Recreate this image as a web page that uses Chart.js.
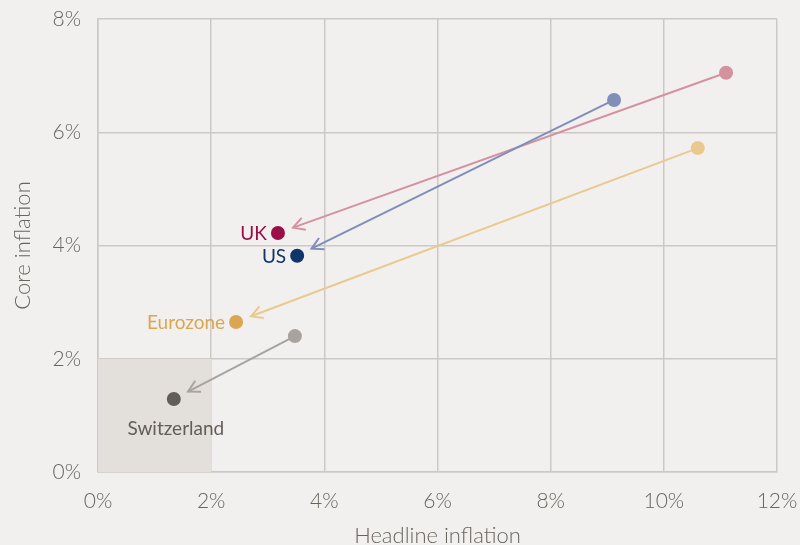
<!DOCTYPE html>
<html>
<head>
<meta charset="utf-8">
<script src="https://cdn.jsdelivr.net/npm/chart.js@4/dist/chart.umd.min.js"></script>
<style>
  html, body { margin: 0; padding: 0; background: #f2f0ee; }
  #wrap { width: 800px; height: 545px; }
</style>
</head>
<body>
<div id="wrap"><canvas id="inflation"></canvas></div>
<script>
// headline / core inflation, start (peak) -> latest
var countries = ['UK', 'US', 'Eurozone', 'Switzerland'];
var startHeadline = [11.1, 9.12, 10.6, 3.48];
var startCore = [7.05, 6.57, 5.72, 2.40];
var endHeadline = [3.18, 3.52, 2.44, 1.34];
var endCore = [4.22, 3.82, 2.65, 1.29];
var lightColors = ['#d4919f', '#7f8fb8', '#e9c990', '#a8a39e'];
var darkColors = ['#9b0d47', '#0f356b', '#dba653', '#625d57'];
var xTicks = [0, 2, 4, 6, 8, 10, 12];
var yTicks = [0, 2, 4, 6, 8];
var targetBox = [2, 2]; // headline, core

var fontFamily = "'Source Sans Pro', Lato, 'Open Sans', sans-serif";
var textColor = '#6a645f';
var gridColor = '#cbc8c5';

function pts(xs, ys){
    var out = [];
    for(var i = 0; i < xs.length; i++){
        out.push({x: xs[i], y: ys[i]});
    }
    return out;
}

var boxPlugin = {
    id: 'targetBox',
    beforeDatasetsDraw: function(chart){
        var ctx = chart.ctx, xs = chart.scales.x, ys = chart.scales.y;
        var x0 = xs.getPixelForValue(0), x1 = xs.getPixelForValue(targetBox[0]);
        var y0 = ys.getPixelForValue(0), y1 = ys.getPixelForValue(targetBox[1]);
        ctx.save();
        ctx.fillStyle = '#e3dfdb';
        ctx.fillRect(x0, y1, x1 - x0, y0 - y1);
        ctx.restore();
    }
};

var arrowPlugin = {
    id: 'arrows',
    beforeDatasetsDraw: function(chart){
        var ctx = chart.ctx, xs = chart.scales.x, ys = chart.scales.y;
        ctx.save();
        ctx.lineWidth = 2;
        for(var i = 0; i < countries.length; i++){
            var sx = xs.getPixelForValue(startHeadline[i]), sy = ys.getPixelForValue(startCore[i]);
            var ex = xs.getPixelForValue(endHeadline[i]), ey = ys.getPixelForValue(endCore[i]);
            var dx = ex - sx, dy = ey - sy;
            var len = Math.sqrt(dx*dx + dy*dy);
            var ux = dx / len, uy = dy / len;
            var tx = ex - ux * 16, ty = ey - uy * 16;
            ctx.strokeStyle = lightColors[i];
            ctx.beginPath();
            ctx.moveTo(sx, sy);
            ctx.lineTo(tx, ty);
            ctx.stroke();
            // open arrow head
            var ang = Math.atan2(uy, ux), head = 13, spread = 0.5;
            ctx.beginPath();
            ctx.moveTo(tx - head * Math.cos(ang - spread), ty - head * Math.sin(ang - spread));
            ctx.lineTo(tx, ty);
            ctx.lineTo(tx - head * Math.cos(ang + spread), ty - head * Math.sin(ang + spread));
            ctx.stroke();
        }
        ctx.restore();
    }
};

var labelPlugin = {
    id: 'countryLabels',
    afterDatasetsDraw: function(chart){
        var ctx = chart.ctx, xs = chart.scales.x, ys = chart.scales.y;
        ctx.save();
        ctx.font = '19px ' + fontFamily;
        for(var i = 0; i < countries.length; i++){
            var ex = xs.getPixelForValue(endHeadline[i]), ey = ys.getPixelForValue(endCore[i]);
            ctx.fillStyle = darkColors[i];
            if(countries[i] === 'Switzerland'){
                ctx.textAlign = 'center';
                ctx.textBaseline = 'middle';
                ctx.fillText(countries[i], ex + 2, ey + 30);
            } else {
                ctx.textAlign = 'right';
                ctx.textBaseline = 'middle';
                ctx.fillText(countries[i], ex - 11, ey + 1);
            }
        }
        ctx.restore();
    }
};

var ctx = document.getElementById('inflation');
var chart = new Chart(ctx, {
    type: 'scatter',
    data: {
        datasets: [{
            label: 'start',
            data: pts(startHeadline, startCore),
            backgroundColor: lightColors,
            borderWidth: 0,
            pointRadius: 7,
            pointHoverRadius: 7
        }, {
            label: 'latest',
            data: pts(endHeadline, endCore),
            backgroundColor: darkColors,
            borderWidth: 0,
            pointRadius: 7,
            pointHoverRadius: 7
        }]
    },
    options: {
        responsive: true,
        maintainAspectRatio: false,
        animation: false,
        layout: { padding: { top: 19, right: 23, left: 0, bottom: 0 } },
        plugins: {
            legend: { display: false },
            tooltip: { enabled: false }
        },
        scales: {
            x: {
                min: 0, max: 12,
                afterBuildTicks: function(scale){
                    scale.ticks = xTicks.map(function(v){ return {value: v}; });
                },
                afterFit: function(scale){
                    scale.height = 73;
                    scale.paddingLeft = 0;
                    scale.paddingRight = 0;
                },
                grid: { color: gridColor, lineWidth: 1.5, drawTicks: false },
                border: { color: gridColor, width: 1.5 },
                ticks: {
                    color: textColor, padding: 17,
                    font: { family: fontFamily, size: 21, weight: 300 },
                    callback: function(v){ return v + '%'; }
                },
                title: {
                    display: true, text: 'Headline inflation', color: textColor,
                    font: { family: fontFamily, size: 22, weight: 300 },
                    padding: { top: 0, bottom: -4 }
                }
            },
            y: {
                min: 0, max: 8,
                afterBuildTicks: function(scale){
                    scale.ticks = yTicks.map(function(v){ return {value: v}; });
                },
                afterFit: function(scale){
                    scale.width = 98;
                    scale.paddingTop = 0;
                    scale.paddingBottom = 0;
                },
                grid: { color: gridColor, lineWidth: 1.5, drawTicks: false },
                border: { color: gridColor, width: 1.5 },
                ticks: {
                    color: textColor, padding: 17,
                    font: { family: fontFamily, size: 21, weight: 300 },
                    callback: function(v){ return v + '%'; }
                },
                title: {
                    display: true, text: 'Core inflation', color: textColor,
                    font: { family: fontFamily, size: 22, weight: 300 },
                    padding: { top: 10, bottom: 0 }
                }
            }
        }
    },
    plugins: [boxPlugin, arrowPlugin, labelPlugin]
});
</script>
</body>
</html>
